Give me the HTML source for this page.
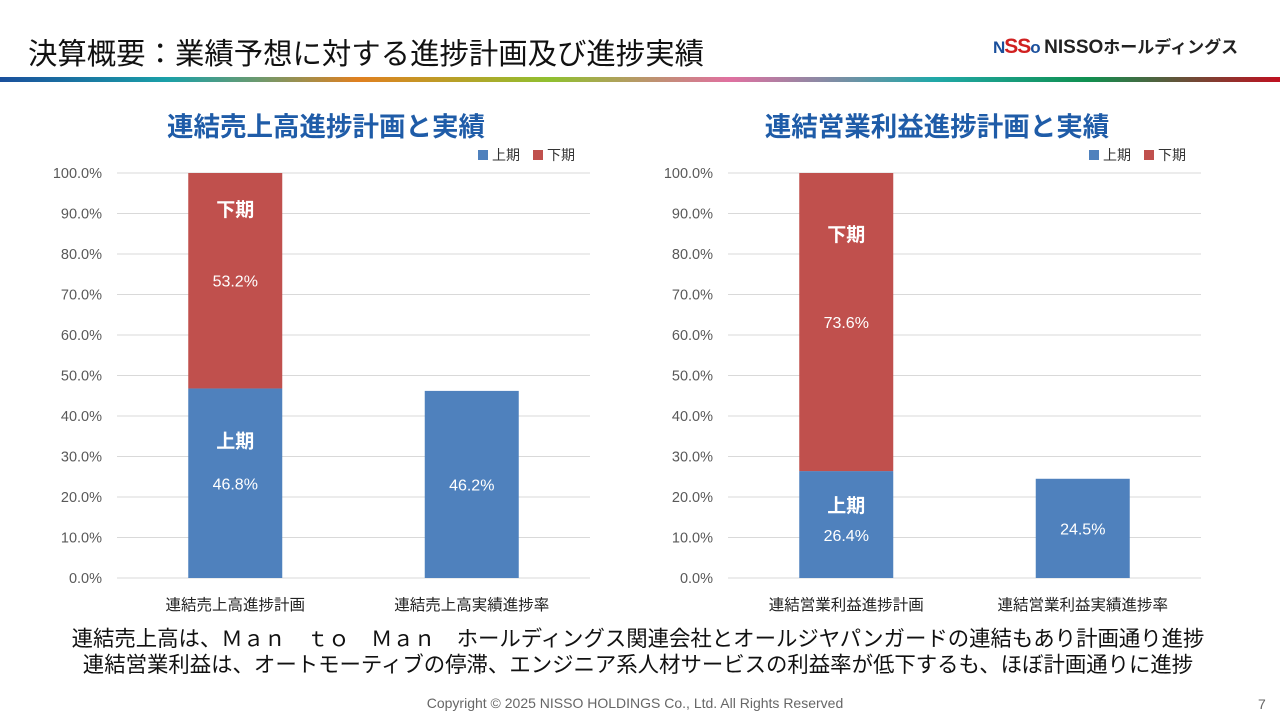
<!DOCTYPE html>
<html><head><meta charset="utf-8"><style>
body{margin:0;width:1280px;height:720px;overflow:hidden;background:#fff;font-family:"Liberation Sans","Noto Sans CJK JP",sans-serif;position:relative}
.abs{position:absolute}
</style></head><body>
<div class="abs" style="left:28px;top:31px;font-size:29.4px;color:#111;white-space:nowrap">決算概要：業績予想に対する進捗計画及び進捗実績</div>
<div class="abs" style="left:993px;top:33px;white-space:nowrap"><span style="color:#1a4f9c;font-weight:bold;font-size:17px;letter-spacing:-1px">N<span style="color:#d02020;font-size:21px">SS</span>o</span> <span style="font-weight:bold;font-size:19px;color:#222">NISSO</span><span style="font-size:17px;color:#222;font-weight:bold">ホールディングス</span></div>
<div class="abs" style="left:0;top:77px;width:1280px;height:5px;background:linear-gradient(90deg,#1a4f9c 0%,#1aa0a8 13%,#6a9a70 20%,#e08020 28%,#90c030 43%,#e070a0 57%,#20a8a8 73%,#109050 85%,#c01020 100%)"></div>
<svg class="abs" style="left:0;top:0" width="1280" height="720" id="svg"></svg>
<div class="abs" style="left:0;top:626px;width:1276px;text-align:center;font-size:21.4px;line-height:26px;color:#111;white-space:nowrap">連結売上高は、Ｍａｎ　ｔｏ　Ｍａｎ　ホールディングス関連会社とオールジヤパンガードの連結もあり計画通り進捗<br>連結営業利益は、オートモーティブの停滞、エンジニア系人材サービスの利益率が低下するも、ほぼ計画通りに進捗</div>
<div class="abs" style="left:0;top:695px;width:1270px;text-align:center;font-size:14px;color:#666">Copyright © 2025 NISSO HOLDINGS Co., Ltd. All Rights Reserved</div>
<div class="abs" style="left:1258px;top:696px;font-size:14px;color:#666">7</div>
<script>
const ticks=[0,10,20,30,40,50,60,70,80,90,100];
const salesCats=["連結売上高進捗計画","連結売上高実績進捗率"];
const salesH1=[46.8,46.2];
const salesH2=[53.2,0];
const opCats=["連結営業利益進捗計画","連結営業利益実績進捗率"];
const opH1=[26.4,24.5];
const opH2=[73.6,0];
const NS="http://www.w3.org/2000/svg";
const svg=document.getElementById('svg');
function mk(t,a,txt){const e=document.createElementNS(NS,t);for(const k in a)e.setAttribute(k,a[k]);if(txt!==undefined)e.textContent=txt;svg.appendChild(e);return e;}
function chart(x0,x1,titleX,title,cats,h1,h2,name,off){
  const y0=578,y100=173;const Y=v=>y0-(y0-y100)*v/100;
  const t=mk('text',{x:titleX,y:136,'text-anchor':'middle','font-size':26.5,'font-weight':'bold',fill:'#1f5ca8'},title);
  
  ticks.forEach(v=>{
    const l=mk('line',{x1:x0,x2:x1,y1:Y(v),y2:Y(v),stroke:'#d9d9d9','stroke-width':1});
    
    const tx=mk('text',{x:x0-15,y:Y(v)+5,'text-anchor':'end','font-size':14.5,fill:'#595959'},v.toFixed(1)+'%');
    
  });
  const lx=x1-112;
  const r1=mk('rect',{x:lx,y:150,width:10,height:10,fill:'#4f81bd'});
  mk('text',{x:lx+14,y:160,'font-size':14,fill:'#333'},'上期');
  const r2=mk('rect',{x:lx+55,y:150,width:10,height:10,fill:'#c0504d'});
  mk('text',{x:lx+69,y:160,'font-size':14,fill:'#333'},'下期');
  const bw=94,step=(x1-x0)/cats.length;
  cats.forEach((c,i)=>{
    const cx=x0+step*(i+0.5);
    const b=mk('rect',{x:cx-bw/2,y:Y(h1[i]),width:bw,height:Y(0)-Y(h1[i]),fill:'#4f81bd'});
    
    if(h2[i]>0){
      const r=mk('rect',{x:cx-bw/2,y:Y(h1[i]+h2[i]),width:bw,height:Y(h1[i])-Y(h1[i]+h2[i]),fill:'#c0504d'});
      
      const mid=Y(h1[i]+h2[i]/2);
      mk('text',{x:cx,y:mid+6,'text-anchor':'middle','font-size':16,fill:'#fff'},h2[i].toFixed(1)+'%');
      mk('text',{x:cx,y:Y(h1[i]+h2[i])+off[0],'text-anchor':'middle','font-size':19,'font-weight':'bold',fill:'#fff'},'下期');
      mk('text',{x:cx,y:Y(h1[i])+off[1],'text-anchor':'middle','font-size':19,'font-weight':'bold',fill:'#fff'},'上期');
      mk('text',{x:cx,y:Y(h1[i])+off[2],'text-anchor':'middle','font-size':16,fill:'#fff'},h1[i].toFixed(1)+'%');
    } else {
      mk('text',{x:cx,y:Y(h1[i]/2)+6,'text-anchor':'middle','font-size':16,fill:'#fff'},h1[i].toFixed(1)+'%');
    }
    const cl=mk('text',{x:cx,y:610,'text-anchor':'middle','font-size':15.5,fill:'#222'},c);
    
  });
}
chart(117,590,326,'連結売上高進捗計画と実績',salesCats,salesH1,salesH2,'sales-chart',[43,59,101]);
chart(728,1201,937,'連結営業利益進捗計画と実績',opCats,opH1,opH2,'op-profit-chart',[68,41,70]);
</script>
</body></html>
